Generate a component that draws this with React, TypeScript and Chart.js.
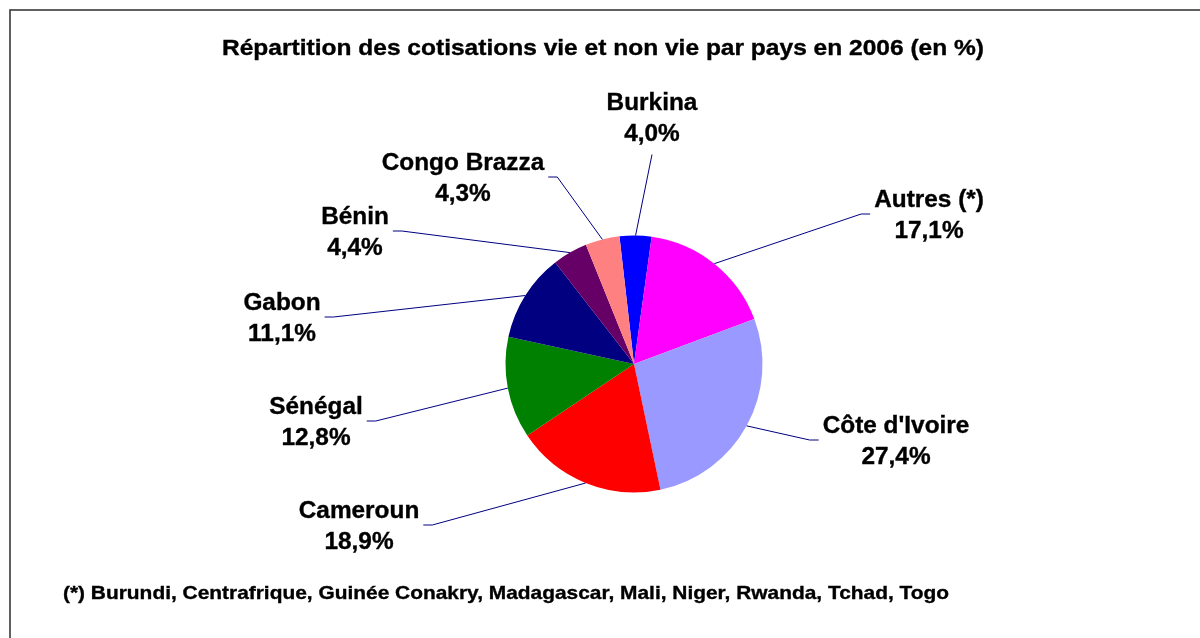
import React, { useEffect, useRef } from "react";
import { Chart, registerables } from "chart.js";

Chart.register(...registerables);

// ---- data ----
const categories = [
  "Burkina",
  "Autres (*)",
  "Côte d'Ivoire",
  "Cameroun",
  "Sénégal",
  "Gabon",
  "Bénin",
  "Congo Brazza",
];
const shares = [4.0, 17.1, 27.4, 18.9, 12.8, 11.1, 4.4, 4.3];
const sliceColors = [
  "#0000FF",
  "#FF00FF",
  "#9999FF",
  "#FF0000",
  "#008000",
  "#000080",
  "#660066",
  "#FF8080",
];
const titleText = "Répartition des cotisations vie et non vie par pays en 2006 (en %)";
const footnoteText =
  "(*) Burundi, Centrafrique, Guinée Conakry, Madagascar, Mali, Niger, Rwanda, Tchad, Togo";

// ---- layout (label block centres, relative to the pie centre) ----
const labelOffsets = [
  [18, -247],
  [295, -150],
  [262, 76],
  [-275, 161],
  [-318, 57],
  [-352, -47],
  [-279, -133],
  [-171, -187],
];

const FONT = '"Liberation Sans", Arial, Helvetica, sans-serif';

function drawText(
  ctx: CanvasRenderingContext2D,
  text: string,
  x: number,
  y: number,
  size: number,
  hscale: number,
  align: "center" | "left"
) {
  ctx.save();
  ctx.font = `bold ${size}px ${FONT}`;
  ctx.textBaseline = "alphabetic";
  ctx.fillStyle = "#000";
  ctx.strokeStyle = "#000";
  ctx.lineWidth = 0.35;
  ctx.translate(x, y);
  ctx.scale(hscale, 1);
  ctx.textAlign = align;
  ctx.fillText(text, 0, 0);
  ctx.strokeText(text, 0, 0);
  ctx.restore();
}

const fmt = (v: number) => v.toFixed(1).replace(".", ",") + "%";

const decorPlugin = {
  id: "decor",
  beforeDraw(chart: any) {
    const ctx = chart.ctx as CanvasRenderingContext2D;
    ctx.save();
    ctx.fillStyle = "#fff";
    ctx.fillRect(0, 0, chart.width, chart.height);
    ctx.strokeStyle = "#3a3a3a";
    ctx.lineWidth = 1.6;
    ctx.strokeRect(10, 10, chart.width + 50, chart.height + 50);
    ctx.restore();
  },
  afterDraw(chart: any) {
    const ctx = chart.ctx as CanvasRenderingContext2D;
    drawText(ctx, titleText, 603, 55, 22, 1.115, "center");
    drawText(ctx, footnoteText, 63, 599, 19, 1.1, "left");

    const meta = chart.getDatasetMeta(0);
    const labelSize = 23;
    const labelScale = 1.06;
    const half = 15.5;
    const capShift = labelSize * 0.358;
    meta.data.forEach((arc: any, i: number) => {
      const p = arc.getProps(["x", "y", "startAngle", "endAngle", "outerRadius"], true);
      const mid = (p.startAngle + p.endAngle) / 2;
      const ex = p.x + Math.cos(mid) * p.outerRadius;
      const ey = p.y + Math.sin(mid) * p.outerRadius;
      const [dx, dy] = labelOffsets[i];
      const cx = p.x + dx;
      const cy = p.y + dy;
      const line1 = categories[i];
      const line2 = fmt(shares[i]);
      drawText(ctx, line1, cx, cy - half + capShift, labelSize, labelScale, "center");
      drawText(ctx, line2, cx, cy + half + capShift, labelSize, labelScale, "center");

      ctx.save();
      ctx.font = `bold ${labelSize}px ${FONT}`;
      const w = Math.max(ctx.measureText(line1).width, ctx.measureText(line2).width) * labelScale;
      ctx.strokeStyle = "#000080";
      ctx.lineWidth = 1;
      ctx.beginPath();
      if (Math.abs(dy) > Math.abs(dx) * 1.2) {
        const sy = dy < 0 ? cy + half + 22 : cy - half - 22;
        ctx.moveTo(cx, sy);
        ctx.lineTo(ex, ey);
      } else {
        const side = dx < 0 ? 1 : -1;
        const sx = cx + side * (w / 2 + 4);
        ctx.moveTo(sx, cy);
        ctx.lineTo(sx + side * 9, cy);
        ctx.lineTo(ex, ey);
      }
      ctx.stroke();
      ctx.restore();
    });
  },
};

export default function App() {
  const ref = useRef<HTMLCanvasElement | null>(null);
  useEffect(() => {
    if (!ref.current) return;
    const chart = new Chart(ref.current, {
      type: "pie",
      data: {
        labels: categories,
        datasets: [
          {
            data: shares,
            backgroundColor: sliceColors,
            borderWidth: 0,
          },
        ],
      },
      options: {
        responsive: false,
        animation: false,
        rotation: -6.5,
        layout: { padding: { left: 505.5, right: 437.5, top: 235.5, bottom: 145.5 } },
        plugins: {
          legend: { display: false },
          title: { display: false },
          tooltip: { enabled: false },
        },
      },
      plugins: [decorPlugin],
    });
    return () => chart.destroy();
  }, []);
  return (
    <div style={{ position: "absolute", left: 0, top: 0, width: 1200, height: 638, background: "#fff" }}>
      <canvas ref={ref} width={1200} height={638} style={{ display: "block" }} />
    </div>
  );
}
